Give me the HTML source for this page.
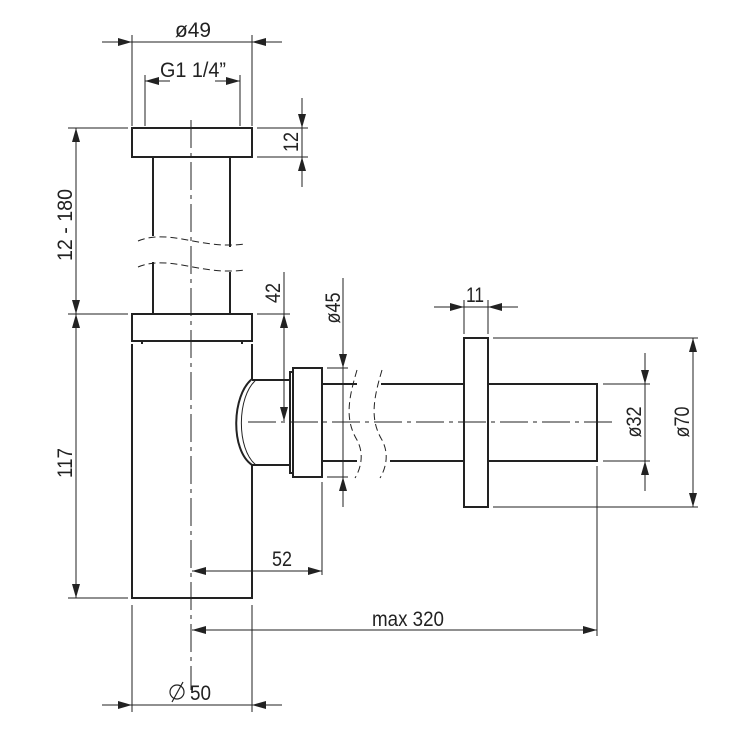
<!DOCTYPE html>
<html><head><meta charset="utf-8"><style>html,body{margin:0;padding:0;background:#fff}svg{display:block}</style></head>
<body>
<svg width="740" height="740" viewBox="0 0 740 740" xmlns="http://www.w3.org/2000/svg" font-family="Liberation Sans, sans-serif" font-size="21" fill="#222">
<defs>
<marker id="a" viewBox="0 0 14 8" refX="14" refY="4" markerWidth="14" markerHeight="8" markerUnits="userSpaceOnUse" orient="auto"><path d="M0,0 L14,4 L0,8 z" fill="#222"/></marker>
</defs>
<g stroke="#222" stroke-width="1" fill="none">
<path d="M191 120 V690" stroke-dasharray="28,5,4,5"/>
<path d="M248 422 H612" stroke-dasharray="28,5,4,5"/>
<path d="M132 35 V126 M252 35 V126 M145 75 V126 M240 75 V126"/>
<path d="M257 128 H308 M257 157 H308"/>
<path d="M68 128 H128 M68 314 H128 M68 598 H128"/>
<path d="M257 314 H290"/>
<path d="M327 368 H348 M327 477 H348"/>
<path d="M322 482 V575"/>
<path d="M464 300 V334 M488 300 V334"/>
<path d="M493 338 H698 M493 507 H698"/>
<path d="M603 384 H650 M603 461 H650"/>
<path d="M597 466 V636"/>
<path d="M132 605 V712 M252 605 V712"/>
<path d="M132 42 H252"/>
<path d="M102 42 H132" marker-end="url(#a)"/>
<path d="M282 42 H252" marker-end="url(#a)"/>
<path d="M170 81 H145" marker-end="url(#a)"/>
<path d="M215 81 H240" marker-end="url(#a)"/>
<path d="M302 98 V128" marker-end="url(#a)"/>
<path d="M302 187 V157" marker-end="url(#a)"/>
<path d="M302 128 V157"/>
<path d="M76 221 V128" marker-end="url(#a)"/>
<path d="M76 221 V314" marker-end="url(#a)"/>
<path d="M76 456 V314" marker-end="url(#a)"/>
<path d="M76 456 V598" marker-end="url(#a)"/>
<path d="M284 272 V314"/>
<path d="M284 367 V314" marker-end="url(#a)"/>
<path d="M284 367 V421" marker-end="url(#a)"/>
<path d="M343 278 V368" marker-end="url(#a)"/>
<path d="M343 507 V477" marker-end="url(#a)"/>
<path d="M343 368 V477"/>
<path d="M434 307 H464" marker-end="url(#a)"/>
<path d="M518 307 H488" marker-end="url(#a)"/>
<path d="M464 307 H488"/>
<path d="M645 353 V384" marker-end="url(#a)"/>
<path d="M645 491 V461" marker-end="url(#a)"/>
<path d="M645 384 V461"/>
<path d="M693 422 V338" marker-end="url(#a)"/>
<path d="M693 422 V507" marker-end="url(#a)"/>
<path d="M256 571 H192" marker-end="url(#a)"/>
<path d="M256 571 H322" marker-end="url(#a)"/>
<path d="M394 630 H192" marker-end="url(#a)"/>
<path d="M394 630 H597" marker-end="url(#a)"/>
<path d="M102 705 H132" marker-end="url(#a)"/>
<path d="M282 705 H252" marker-end="url(#a)"/>
<path d="M132 705 H252"/>
<g stroke-dasharray="7,4">
<path d="M138 241 C170 228 200 250 245 244"/>
<path d="M138 267 C170 254 200 276 245 270"/>
<path d="M357 370 C348 400 345 420 357 440 C365 455 360 470 355 478"/>
<path d="M382 370 C373 400 370 420 382 440 C390 455 385 470 380 478"/>
</g>
</g>
<g stroke="#222" stroke-width="2" fill="none">
<rect x="132" y="128" width="120" height="29"/>
<path d="M153 157 V236 M230 157 V247 M153 262 V314 M230 272 V314"/>
<rect x="132" y="314" width="120" height="27"/>
<path d="M142 341 V344 M242 341 V344"/>
<path d="M132 344 V598 H252 V465 M252 344 V379"/>
<path d="M252 380 H290 M252 465 H290"/>
<path d="M252 379 C232 395 230 450 252 465"/>
<path d="M256 380 C237 396 236 449 256 465" stroke-width="1"/>
<rect x="290" y="372" width="3" height="101"/>
<rect x="293" y="368" width="29" height="109"/>
<path d="M322 384 H357 M322 461 H357 M381 384 H464 M390 461 H464"/>
<rect x="464" y="338" width="24" height="169"/>
<path d="M488 384 H597 V461 H488"/>
</g>
<g stroke="none">
<text x="193" y="37" text-anchor="middle" textLength="36" lengthAdjust="spacingAndGlyphs">ø49</text>
<text x="193" y="77" text-anchor="middle" textLength="66" lengthAdjust="spacingAndGlyphs">G1 1/4”</text>
<text transform="translate(298,142) rotate(-90)" text-anchor="middle" textLength="20" lengthAdjust="spacingAndGlyphs">12</text>
<text transform="translate(72,225) rotate(-90)" text-anchor="middle" textLength="72" lengthAdjust="spacingAndGlyphs">12 - 180</text>
<text transform="translate(72,463) rotate(-90)" text-anchor="middle" textLength="30" lengthAdjust="spacingAndGlyphs">117</text>
<text transform="translate(280,293) rotate(-90)" text-anchor="middle" textLength="20" lengthAdjust="spacingAndGlyphs">42</text>
<text transform="translate(340,308) rotate(-90)" text-anchor="middle" textLength="31" lengthAdjust="spacingAndGlyphs">ø45</text>
<text x="475" y="302" text-anchor="middle" textLength="18" lengthAdjust="spacingAndGlyphs">11</text>
<text transform="translate(641,422) rotate(-90)" text-anchor="middle" textLength="31" lengthAdjust="spacingAndGlyphs">ø32</text>
<text transform="translate(689,422) rotate(-90)" text-anchor="middle" textLength="31" lengthAdjust="spacingAndGlyphs">ø70</text>
<text x="282" y="566" text-anchor="middle" textLength="20" lengthAdjust="spacingAndGlyphs">52</text>
<text x="408" y="626" text-anchor="middle" textLength="72" lengthAdjust="spacingAndGlyphs">max 320</text>
<text x="190" y="700" textLength="21" lengthAdjust="spacingAndGlyphs">50</text>
</g>
<g stroke="#222" stroke-width="1.2" fill="none">
<circle cx="177" cy="692" r="7"/>
<path d="M172 702 L183 682"/>
</g>
</svg>
</body></html>
